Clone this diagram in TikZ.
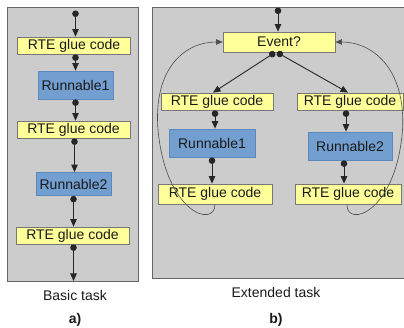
\documentclass[tikz,border=0pt]{standalone}
\usepackage{fontspec}
\setmainfont{Liberation Sans}
\usetikzlibrary{arrows.meta}
\definecolor{panelgray}{HTML}{CCCCCC}
\definecolor{panelborder}{HTML}{666666}
\definecolor{glueyellow}{HTML}{FFFF99}
\definecolor{glueborder}{HTML}{777777}
\definecolor{runblue}{HTML}{729FCF}
\definecolor{runborder}{HTML}{5A87BE}
\definecolor{txt}{HTML}{1A1A1A}
\tikzset{
  panel/.style={fill=panelgray,draw=panelborder,line width=0.9pt},
  glue/.style={draw=glueborder,fill=glueyellow,line width=0.8pt,inner sep=0pt,minimum height=17pt,text=txt,font=\fontsize{14}{16}\selectfont},
  runbox/.style={draw=runborder,fill=runblue,line width=0.8pt,inner sep=0pt,text=txt,font=\fontsize{14}{16}\selectfont},
  flow/.style={draw=black!85,line width=0.9pt,{Circle[length=6.5pt]}-{Triangle[length=7.5pt,width=6.5pt]}},
  loop/.style={draw=black!70,line width=0.6pt,-{Triangle[length=6.5pt,width=5.5pt]}},
  lbl/.style={text=txt,font=\fontsize{14}{16}\selectfont},
}
\begin{document}
\begin{tikzpicture}[x=1pt,y=-1pt]
\useasboundingbox (0,0) rectangle (404,328);
% panels
\draw[panel] (7,7) rectangle (138,281);
\draw[panel] (152,7) rectangle (410,278);

% ---- left: basic task
\coordinate (ltop) at (75.5,10.5);
\node[glue,minimum width=113pt] (g1) at (74,45.5) {RTE glue code};
\node[runbox,minimum width=75pt,minimum height=28pt] (r1) at (75.5,85) {Runnable1};
\node[glue,minimum width=113pt] (g2) at (73.5,129.5) {RTE glue code};
\node[runbox,minimum width=75pt,minimum height=23pt] (r2) at (73.5,184) {Runnable2};
\node[glue,minimum width=113pt] (g3) at (72.5,235.5) {RTE glue code};
\coordinate (lbot) at (75.5,281);

\draw[flow] (ltop) -- (ltop |- g1.north);
\draw[flow] (g1.south -| ltop) -- (r1.north -| ltop);
\draw[flow] (r1.south -| ltop) -- (g2.north -| ltop);
\draw[flow] ([xshift=-1pt]g2.south -| ltop) -- ([xshift=-1pt]r2.north -| ltop);
\draw[flow] ([xshift=-2pt]r2.south -| ltop) -- ([xshift=-2pt]g3.north -| ltop);
\draw[flow] ([xshift=-2pt]g3.south -| ltop) -- ([xshift=-2pt]lbot);

\node[lbl] (la) at (75,295) {Basic task};
\node[lbl,font=\fontsize{14}{16}\selectfont\bfseries] (lab) at (75,320) {a)};

% ---- right: extended task
\coordinate (rtop) at (278,7.5);
\node[glue,minimum width=112pt,minimum height=20pt] (ev) at (279,42) {Event?};
\node[glue,minimum width=112pt] (lg1) at (217,101.5) {RTE glue code};
\node[glue,minimum width=106pt] (rg1) at (350,101.5) {RTE glue code};
\node[runbox,minimum width=86pt,minimum height=28pt] (lr1) at (212,143) {Runnable1};
\node[runbox,minimum width=84pt,minimum height=28pt] (rr2) at (350,146) {Runnable2};
\node[glue,minimum width=114pt,minimum height=20pt] (lg2) at (215,194) {RTE glue code};
\node[glue,minimum width=106pt,minimum height=20pt] (rg2) at (348,194) {RTE glue code};

\draw[flow] (rtop) -- (rtop |- ev.north);
\draw[flow] ([xshift=-4pt]ev.south) -- ([xshift=-4pt]lg1.north);
\draw[flow] ([xshift=-2pt]ev.south) -- ([xshift=-2pt]rg1.north);
\draw[flow] ([xshift=-2pt]lg1.south) -- ([xshift=-2pt]lg1.south |- lr1.north);
\draw[flow] ([xshift=0pt]lr1.south) -- ([xshift=0pt]lr1.south |- lg2.north);
\draw[flow] ([xshift=-4pt]rg1.south) -- ([xshift=-4pt]rg1.south |- rr2.north);
\draw[flow] ([xshift=-6pt]rr2.south) -- ([xshift=-6pt]rr2.south |- rg2.north);

\draw[loop] (lg2.south) .. controls (215,228) and (166,214) .. (158,130)
  .. controls (153,68) and (185,42) .. (ev.west);
\draw[loop] ([xshift=-1pt]rg2.south) .. controls (346,228) and (396,214) .. (402.5,130)
  .. controls (406,68) and (372,42) .. (ev.east);

\node[lbl] (lb) at (276,292) {Extended task};
\node[lbl,font=\fontsize{14}{16}\selectfont\bfseries] (lbb) at (276,320) {b)};
\end{tikzpicture}
\end{document}
